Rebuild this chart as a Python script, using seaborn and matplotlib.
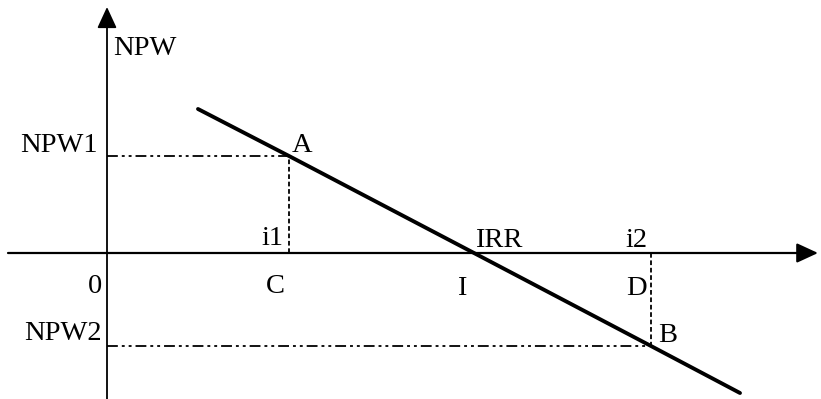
import matplotlib
matplotlib.use("Agg")
import matplotlib.pyplot as plt
import seaborn as sns
import pandas as pd

# ---- data (abstract units: interest rate i vs NPW) ----
line_i = [9.1, 18.2, 36.7, 54.4, 63.3]
line_npw = [14.4, 9.7, 0.0, -9.3, -14.0]
i1, irr, i2 = 18.2, 36.7, 54.4
npw1, npw2 = 9.7, -9.3
x_range = [-9.9, 71.1]
y_range = [-14.6, 24.6]

sns.set_theme(style="white")
plt.rcParams['font.family'] = ['Liberation Serif', 'DejaVu Serif']

fig = plt.figure(figsize=(8.21, 3.99), dpi=100)
ax = fig.add_axes([0, 0, 1, 1])
ax.set_xlim(-10.7, 71.4)
ax.set_ylim(-14.6, 25.3)
ax.axis('off')

df = pd.DataFrame({'i': line_i, 'NPW': line_npw})
sns.lineplot(data=df, x='i', y='NPW', ax=ax, color='black', lw=2.8, sort=False)

arrow = dict(arrowstyle='-|>,head_length=0.65,head_width=0.3', mutation_scale=20,
             lw=1.6, color='black', shrinkA=0, shrinkB=0)
ax.annotate('', xy=(x_range[1], 0), xytext=(x_range[0], 0), arrowprops=arrow)
ax.annotate('', xy=(0, y_range[1]), xytext=(0, y_range[0]), arrowprops=dict(arrow, lw=1.3))

ddot = (0, (6, 2.2, 1.6, 2.2, 1.6, 2.2))
ax.plot([0, i1], [npw1, npw1], color='black', lw=1.3, linestyle=ddot)
ax.plot([0, i2], [npw2, npw2], color='black', lw=1.3, linestyle=ddot)
ax.plot([i1, i1], [0, npw1], color='black', lw=1.3, linestyle=(0, (2.6, 1.5)))
ax.plot([i2, i2], [0, npw2], color='black', lw=1.3, linestyle=(0, (2.6, 1.5)))

fs = 20.5
def lab(x, y, s, ha):
    ax.text(x, y, s, ha=ha, va='baseline', fontsize=fs, color='black')

lab(0.6, 19.8, 'NPW', 'left')
lab(-0.9, npw1 + 0.4, 'NPW1', 'right')
lab(i1 + 0.3, npw1 + 0.4, 'A', 'left')
lab(i1 - 0.6, 0.8, 'i1', 'right')
lab(i1 - 0.4, -4.0, 'C', 'right')
lab(-0.5, -4.0, '0', 'right')
lab(-0.5, npw2 + 0.6, 'NPW2', 'right')
lab(irr + 0.1, 0.6, 'IRR', 'left')
lab(irr - 1.2, -4.2, 'I', 'center')
lab(i2 - 0.3, 0.6, 'i2', 'right')
lab(i2 - 0.4, -4.2, 'D', 'right')
lab(i2 + 0.7, npw2 + 0.4, 'B', 'left')

fig.savefig('out.png', dpi=100, facecolor='white')
